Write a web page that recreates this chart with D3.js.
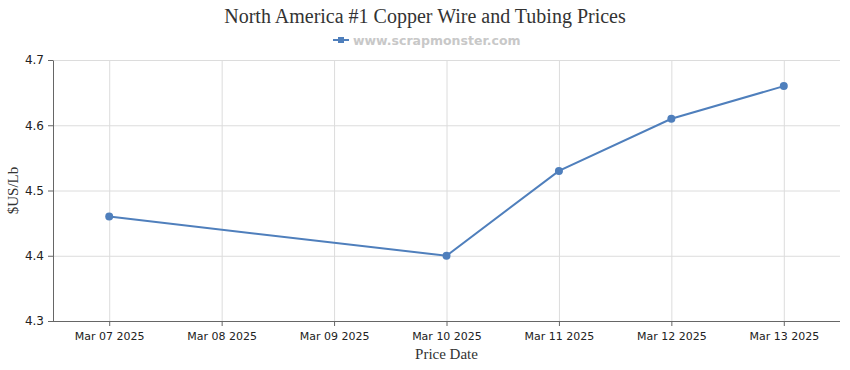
<!DOCTYPE html>
<html lang="en">
<head>
<meta charset="utf-8">
<script src="https://cdn.jsdelivr.net/npm/d3@7"></script>
<style>
body { margin:0; background:#fff; }
svg { display:block; }
.grid line { stroke:#dcdcdc; stroke-width:1; }
.grid path { display:none; }
.axis path, .axis line { stroke:#666; }
.axis text { font-family:"DejaVu Sans", Verdana, sans-serif; font-size:11px; fill:#222; }
.axis.y text { font-size:12px; }
.title { font-family:"Liberation Serif", "Times New Roman", serif; font-size:20px; fill:#333; }
.atitle { font-family:"Liberation Serif", "Times New Roman", serif; font-size:15px; fill:#333; }
.legend { font-family:"DejaVu Sans", Verdana, sans-serif; font-size:12.5px; font-weight:bold; fill:#c8c8c8; }
</style>
</head>
<body>
<svg id="chart"></svg>
<script>
var dates = ["Mar 07 2025","Mar 08 2025","Mar 09 2025","Mar 10 2025","Mar 11 2025","Mar 12 2025","Mar 13 2025"];
var priceDates = ["Mar 07 2025","Mar 10 2025","Mar 11 2025","Mar 12 2025","Mar 13 2025"];
var prices = [4.46, 4.40, 4.53, 4.61, 4.66];
var yTicks = [4.3, 4.4, 4.5, 4.6, 4.7];

var w = 850, h = 370, pLeft = 53, pRight = 840, pTop = 60, pBottom = 321;
var color = "#4f7fbc";

var svg = d3.select('#chart').attr('width', w).attr('height', h);

var x = d3.scalePoint().domain(dates).range([pLeft, pRight]).padding(0.5);
var y = d3.scaleLinear().domain([4.3, 4.7]).range([pBottom, pTop]);

// grid
svg.append('g').attr('class','grid')
	.attr('transform','translate(0,' + pBottom + ')')
	.call(d3.axisBottom(x).tickSize(-(pBottom - pTop)).tickFormat(''));
svg.append('g').attr('class','grid')
	.attr('transform','translate(' + pLeft + ',0)')
	.call(d3.axisLeft(y).tickValues(yTicks).tickSize(-(pRight - pLeft)).tickFormat(''));

// axes
var xa = svg.append('g').attr('class','axis x')
	.attr('transform','translate(0,' + pBottom + ')')
	.call(d3.axisBottom(x).tickSize(5).tickSizeOuter(0).tickPadding(6));
xa.select('.domain').attr('d', 'M' + pLeft + ',0.5H' + pRight);

var ya = svg.append('g').attr('class','axis y')
	.attr('transform','translate(' + pLeft + ',0)')
	.call(d3.axisLeft(y).tickValues(yTicks).tickFormat(d3.format('.1f')).tickSize(5).tickSizeOuter(0).tickPadding(4));

// line + points
var pts = priceDates.map(function(d, i){ return {d:d, v:prices[i]}; });
svg.append('path')
	.datum(pts)
	.attr('fill','none')
	.attr('stroke', color)
	.attr('stroke-width', 2)
	.attr('d', d3.line().x(function(p){ return x(p.d); }).y(function(p){ return y(p.v); }));
svg.selectAll('circle.pt')
	.data(pts)
	.enter().append('circle')
	.attr('class','pt')
	.attr('cx', function(p){ return x(p.d); })
	.attr('cy', function(p){ return y(p.v); })
	.attr('r', 4)
	.attr('fill', color);

// titles
svg.append('text').attr('class','title')
	.attr('x', w/2).attr('y', 23).attr('text-anchor','middle')
	.text('North America #1 Copper Wire and Tubing Prices');
svg.append('text').attr('class','atitle')
	.attr('x', (pLeft + pRight)/2).attr('y', 359).attr('text-anchor','middle')
	.text('Price Date');
svg.append('text').attr('class','atitle')
	.attr('transform','translate(18,' + ((pTop + pBottom)/2) + ') rotate(-90)')
	.attr('text-anchor','middle')
	.text('$US/Lb');

// legend
var lg = svg.append('g').attr('transform','translate(333,40)');
lg.append('line').attr('x1',0).attr('x2',16).attr('y1',0).attr('y2',0)
	.attr('stroke', color).attr('stroke-width', 2);
lg.append('rect').attr('x',5).attr('y',-3).attr('width',6).attr('height',6).attr('fill', color);
lg.append('text').attr('class','legend').attr('x',20).attr('y',4.5).text('www.scrapmonster.com');
</script>
</body>
</html>
